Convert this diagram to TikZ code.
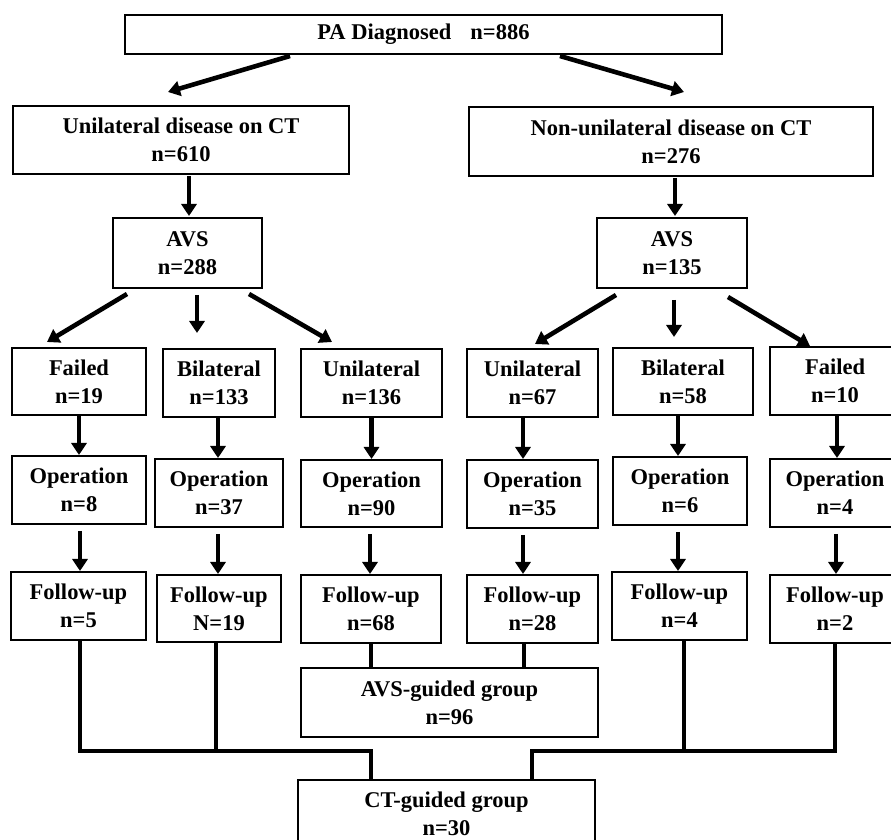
\documentclass[tikz,border=0pt]{standalone}
\usepackage{fontspec}
\setmainfont{Liberation Serif}
\usetikzlibrary{arrows.meta}
\tikzset{
  box/.style={draw, line width=1pt, inner sep=0pt, align=center,
    font=\bfseries\fontsize{11.25}{14}\selectfont},
  arr/.style={line width=2.3pt, -{Triangle[length=6pt,width=7.5pt]}},
  conn/.style={line width=2.2pt, line cap=rect},
}
\begin{document}
\begin{tikzpicture}[x=0.5pt,y=-0.5pt]
\clip (0,0) rectangle (891,840);
\fill[white] (0,0) rectangle (891,840);
% nodes
\node[box, minimum width=298.5pt, minimum height=19.5pt] (top) at (423.5,34.5) {PA Diagnosed\hspace{0.85em}n=886};
\node[box, minimum width=168pt, minimum height=34pt] (uct) at (181,140) {Unilateral disease on CT\\n=610};
\node[box, minimum width=202pt, minimum height=34.5pt] (nct) at (671,141.5) {Non-unilateral disease on CT\\n=276};
\node[box, minimum width=74.5pt, minimum height=35pt] (avsL) at (187.5,253) {AVS\\n=288};
\node[box, minimum width=75pt, minimum height=35pt] (avsR) at (672,253) {AVS\\n=135};
% row 1
\node[box, minimum width=67pt, minimum height=33.5pt] (f19) at (79,381.5) {Failed\\n=19};
\node[box, minimum width=56pt, minimum height=34pt] (b133) at (219,383) {Bilateral\\n=133};
\node[box, minimum width=70.5pt, minimum height=34pt] (u136) at (371.5,383) {Unilateral\\n=136};
\node[box, minimum width=65.5pt, minimum height=34pt] (u67) at (532.5,383) {Unilateral\\n=67};
\node[box, minimum width=70pt, minimum height=33.5pt] (b58) at (683,381.5) {Bilateral\\n=58};
\node[box, minimum width=65pt, minimum height=34pt] (f10) at (835,381) {Failed\\n=10};
% row 2
\node[box, minimum width=67pt, minimum height=34pt] (o8) at (79,490) {Operation\\n=8};
\node[box, minimum width=64pt, minimum height=34pt] (o37) at (219,493) {Operation\\n=37};
\node[box, minimum width=70.5pt, minimum height=33.5pt] (o90) at (371.5,493.5) {Operation\\n=90};
\node[box, minimum width=65.5pt, minimum height=34pt] (o35) at (532.5,494) {Operation\\n=35};
\node[box, minimum width=67pt, minimum height=34pt] (o6) at (680,491) {Operation\\n=6};
\node[box, minimum width=65pt, minimum height=34pt] (o4) at (835,493) {Operation\\n=4};
% row 3
\node[box, minimum width=67.5pt, minimum height=34pt] (fu5) at (78.5,606) {Follow-up\\n=5};
\node[box, minimum width=62pt, minimum height=33.5pt] (fu19) at (219,608.5) {Follow-up\\N=19};
\node[box, minimum width=70pt, minimum height=34pt] (fu68) at (371,609) {Follow-up\\n=68};
\node[box, minimum width=65.5pt, minimum height=34pt] (fu28) at (532.5,609) {Follow-up\\n=28};
\node[box, minimum width=67.5pt, minimum height=34pt] (fu4) at (679.5,606) {Follow-up\\n=4};
\node[box, minimum width=65pt, minimum height=34pt] (fu2) at (835,609) {Follow-up\\n=2};
% groups
\node[box, minimum width=148.5pt, minimum height=34.5pt] (avsg) at (449.5,702.5) {AVS-guided group\\n=96};
\node[box, minimum width=148.5pt, minimum height=34pt] (ctg) at (446.5,814) {CT-guided group\\n=30};
% arrows top
\draw[arr] ([shift={(-133.5,1)}]top.south) -- ([shift={(-13,-13)}]uct.north);
\draw[arr] ([shift={(136.5,1)}]top.south) -- ([shift={(13,-14)}]nct.north);
\draw[arr] ([shift={(8,1)}]uct.south) -- ([shift={(1.5,-1)}]avsL.north);
\draw[arr] ([shift={(4,1)}]nct.south) -- ([shift={(3,-1)}]avsR.north);
% AVS left
\draw[arr] ([shift={(-60.5,5)}]avsL.south) -- ([shift={(-32,-5)}]f19.north);
\draw[arr] ([shift={(9.5,6)}]avsL.south) -- ([shift={(-22,-15)}]b133.north);
\draw[arr] ([shift={(61.5,5)}]avsL.south) -- ([shift={(-39.5,-6)}]u136.north);
% AVS right
\draw[arr] ([shift={(-56,6)}]avsR.south) -- ([shift={(2.5,-4)}]u67.north);
\draw[arr] ([shift={(2,11)}]avsR.south) -- ([shift={(-9,-10)}]b58.north);
\draw[arr] ([shift={(56,8)}]avsR.south) -- ([shift={(-25,0)}]f10.north);
% row1 -> row2
\draw[arr] (f19.south) -- (f19.south |- o8.north);
\draw[arr] ([xshift=-0.5pt]b133.south) -- ([xshift=-0.5pt]b133.south |- o37.north);
\draw[arr] (u136.south) -- (u136.south |- o90.north);
\draw[arr] ([xshift=-4.75pt]u67.south) -- ([xshift=-4.75pt]u67.south |- o35.north);
\draw[arr] ([xshift=-2.5pt]b58.south) -- ([xshift=-2.5pt]b58.south |- o6.north);
\draw[arr] ([xshift=1pt]f10.south) -- ([xshift=1pt]f10.south |- o4.north);
% row2 -> row3
\draw[arr] ([shift={(1,6)}]o8.south) -- ([xshift=0.5pt]o8.south |- fu5.north);
\draw[arr] ([shift={(-1,6)}]o37.south) -- ([xshift=-0.5pt]o37.south |- fu19.north);
\draw[arr] ([shift={(-1.5,6)}]o90.south) -- ([xshift=-0.75pt]o90.south |- fu68.north);
\draw[arr] ([shift={(-9.5,6)}]o35.south) -- ([xshift=-4.75pt]o35.south |- fu28.north);
\draw[arr] ([shift={(-2,6)}]o6.south) -- ([xshift=-1pt]o6.south |- fu4.north);
\draw[arr] ([shift={(1,6)}]o4.south) -- ([xshift=0.5pt]o4.south |- fu2.north);
% connectors to AVS-guided
\draw[conn, line cap=butt] (fu68.south) -- (fu68.south |- avsg.north);
\draw[conn, line cap=butt] ([xshift=-4.25pt]fu28.south) -- ([xshift=-4.25pt]fu28.south |- avsg.north);
% connectors to CT-guided
\coordinate (jl) at (371,751);
\coordinate (jr) at (532,751);
\draw[conn] ([xshift=0.75pt]fu5.south) -- ([xshift=0.75pt]fu5.south |- jl) -- (jl);
\draw[conn, line cap=butt] (jl) -- (jl |- ctg.north);
\draw[conn] ([xshift=-1.5pt]fu19.south) -- ([xshift=-1.5pt]fu19.south |- jl);
\draw[conn] (fu2.south) -- (fu2.south |- jr) -- (jr);
\draw[conn, line cap=butt] (jr) -- (jr |- ctg.north);
\draw[conn] ([xshift=2.25pt]fu4.south) -- ([xshift=2.25pt]fu4.south |- jr);
\end{tikzpicture}
\end{document}
